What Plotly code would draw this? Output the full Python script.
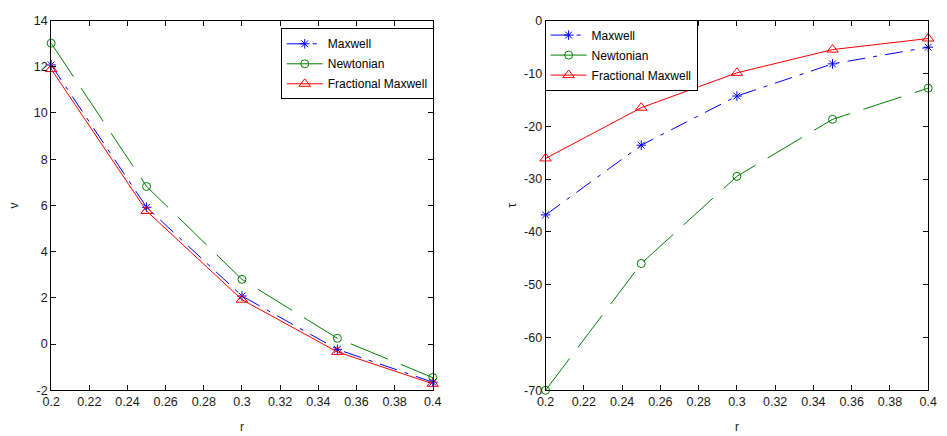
import plotly.graph_objects as go
from plotly.subplots import make_subplots

# Radial positions
r = [0.2, 0.25, 0.3, 0.35, 0.4]

# Velocity profiles v(r)
v_maxwell = [12.08, 5.92, 2.08, -0.23, -1.65]
v_newtonian = [13.02, 6.82, 2.80, 0.25, -1.45]
v_fractional = [11.90, 5.76, 1.92, -0.34, -1.72]

# Shear stress profiles tau(r)
tau_maxwell = [-36.8, -23.6, -14.3, -8.2, -5.05]
tau_newtonian = [-70.0, -46.0, -29.5, -18.7, -12.8]
tau_fractional = [-26.1, -16.5, -9.9, -5.5, -3.4]

names = ["Maxwell", "Newtonian", "Fractional Maxwell"]
x_ticks = [0.2, 0.22, 0.24, 0.26, 0.28, 0.3, 0.32, 0.34, 0.36, 0.38, 0.4]
v_ticks = [-2, 0, 2, 4, 6, 8, 10, 12, 14]
tau_ticks = [-70, -60, -50, -40, -30, -20, -10, 0]

styles = [
    dict(color="rgb(0,0,255)", dash="18px,8px,4px,8px", symbol="asterisk-open", size=8),
    dict(color="rgb(0,128,0)", dash="40px,14px", symbol="circle-open", size=8),
    dict(color="rgb(255,0,0)", dash="solid", symbol="triangle-up-open", size=10),
]

FONT = "Liberation Sans, Arial, sans-serif"
TXT = "#1a1a1a"

fig = make_subplots(rows=1, cols=2)

for col, series, leg in [
    (1, [v_maxwell, v_newtonian, v_fractional], "legend"),
    (2, [tau_maxwell, tau_newtonian, tau_fractional], "legend2"),
]:
    for name, ys, st in zip(names, series, styles):
        fig.add_trace(
            go.Scatter(
                x=r, y=ys, name=name, mode="lines+markers",
                line=dict(color=st["color"], width=1, dash=st["dash"]),
                marker=dict(symbol=st["symbol"], size=st["size"], color=st["color"],
                            line=dict(color=st["color"], width=1)),
                legend=leg, legendgroup=f"{leg}-{name}", cliponaxis=False,
            ),
            row=1, col=col,
        )

axis_common = dict(
    showline=True, linecolor="black", linewidth=1, mirror="ticks",
    ticks="inside", ticklen=5, tickcolor="black", showgrid=False, zeroline=False,
    tickfont=dict(family=FONT, size=12.5, color=TXT),
)

fig.update_xaxes(**axis_common, range=[0.2, 0.4], tickvals=x_ticks,
                 ticktext=[f"{t:g}" for t in x_ticks],
                 title=dict(text="r", font=dict(family=FONT, size=12, color=TXT), standoff=14))
fig.update_xaxes(domain=[43 / 947, 432 / 947], row=1, col=1)
fig.update_xaxes(domain=[547 / 947, 937 / 947], row=1, col=2)

fig.update_yaxes(**axis_common, domain=[1 - 396 / 436, 1 - 14 / 436])
fig.update_yaxes(range=[-2, 14], tickvals=v_ticks, ticktext=[str(t) for t in v_ticks],
                 title=dict(text="v", font=dict(family=FONT, size=12, color=TXT), standoff=12),
                 row=1, col=1)
fig.update_yaxes(range=[-70, 0], tickvals=tau_ticks, ticktext=[str(t) for t in tau_ticks],
                 title=dict(text="τ", font=dict(family=FONT, size=12, color=TXT), standoff=4),
                 row=1, col=2)

legend_common = dict(
    bgcolor="white", bordercolor="black", borderwidth=1,
    font=dict(family=FONT, size=12, color="black"),
    xanchor="left", yanchor="top", traceorder="grouped", tracegroupgap=1,
    itemwidth=36,
)

fig.update_layout(
    width=947, height=436,
    margin=dict(l=0, r=0, t=0, b=0),
    paper_bgcolor="white", plot_bgcolor="white",
    legend=dict(**legend_common, x=277 / 947, y=1 - 22 / 436),
    legend2=dict(**legend_common, x=546 / 947, y=1 - 13 / 436),
)

fig.write_html("out.html")
